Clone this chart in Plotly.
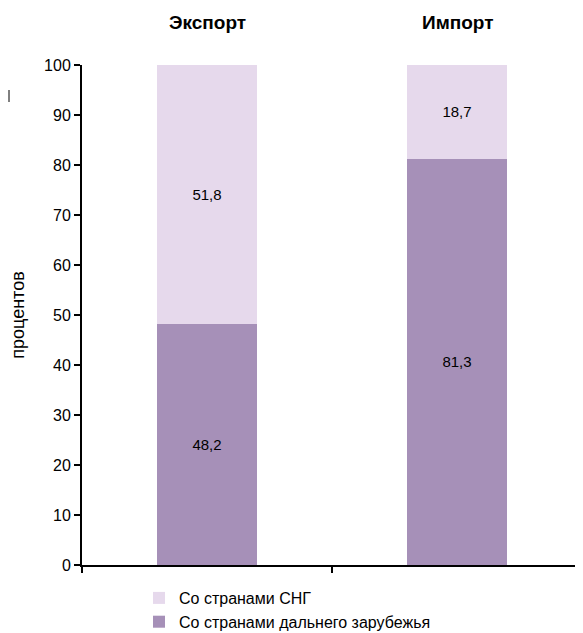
import plotly.graph_objects as go

categories = ["Экспорт", "Импорт"]
far_abroad = [48.2, 81.3]
cis = [51.8, 18.7]
y_ticks = [0, 10, 20, 30, 40, 50, 60, 70, 80, 90, 100]
name_cis = "Со странами СНГ"
name_far = "Со странами дальнего зарубежья"

x_pos = list(range(len(categories)))
fmt = lambda vals: [f"{v:.1f}".replace(".", ",") for v in vals]

font_family = "Liberation Sans, Arial, sans-serif"

fig = go.Figure()
fig.add_trace(go.Bar(
    x=x_pos, y=far_abroad, name=name_far,
    marker=dict(color="#A690B8", line=dict(width=0)),
    text=fmt(far_abroad), textposition="inside", insidetextanchor="middle",
    textfont=dict(size=15, color="black", family=font_family),
    width=0.4,
))
fig.add_trace(go.Bar(
    x=x_pos, y=cis, name=name_cis,
    marker=dict(color="#E6D9EC", line=dict(width=0)),
    text=fmt(cis), textposition="inside", insidetextanchor="middle",
    textfont=dict(size=15, color="black", family=font_family),
    width=0.4,
))

for i, c in enumerate(categories):
    fig.add_annotation(
        x=i, y=1, xref="x", yref="paper", yanchor="middle",
        text=f"<b>{c}</b>", showarrow=False, yshift=43,
        font=dict(size=19, color="black", family=font_family),
    )

fig.add_shape(type="line", xref="paper", yref="paper",
              x0=-0.146, x1=-0.146, y0=0.926, y1=0.950,
              line=dict(color="black", width=1))

fig.update_layout(
    barmode="stack",
    width=575, height=625,
    margin=dict(l=74, r=1, t=57, b=68, autoexpand=False),
    plot_bgcolor="white", paper_bgcolor="white",
    font=dict(family=font_family, size=16, color="black"),
    showlegend=True,
    legend=dict(
        orientation="v", x=0.114, xanchor="left", y=-0.032, yanchor="top",
        font=dict(size=16, family=font_family), tracegroupgap=0,
        itemwidth=30,
    ),
    xaxis=dict(
        range=[-0.5, len(categories) - 0.5],
        tickvals=[i - 0.5 for i in range(len(categories) + 1)],
        ticktext=["" for _ in range(len(categories) + 1)],
        ticks="outside", ticklen=6, tickwidth=2, tickcolor="black",
        showline=True, linecolor="black", linewidth=2,
        showgrid=False, zeroline=False,
    ),
    yaxis=dict(
        range=[0, 100], tickvals=y_ticks,
        ticks="outside", ticklen=6, tickwidth=2, tickcolor="black",
        showline=True, linecolor="black", linewidth=2,
        showgrid=False, zeroline=False,
        title=dict(text="процентов", font=dict(size=18), standoff=18),
        tickfont=dict(size=16),
    ),
)

fig.write_html("out.html")
